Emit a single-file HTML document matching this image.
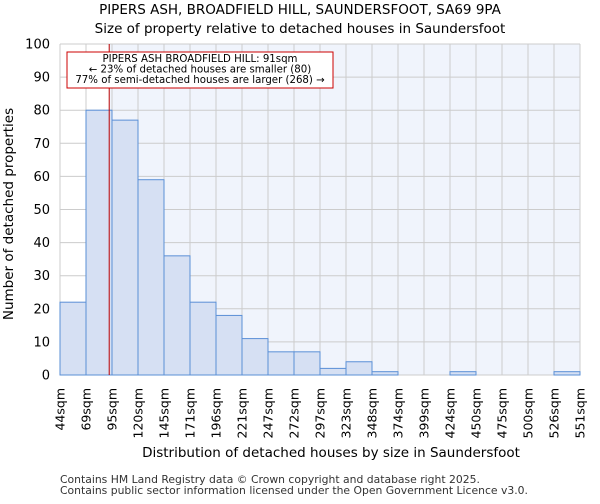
<!DOCTYPE html>
<html><head><meta charset="utf-8"><style>
body{margin:0;background:#fff;font-family:"DejaVu Sans","Liberation Sans",sans-serif}
</style></head><body>
<svg width="600" height="500" xmlns="http://www.w3.org/2000/svg" font-family="DejaVu Sans, Liberation Sans, sans-serif">
<text x="300" y="14" text-anchor="middle" font-size="13.5">PIPERS ASH, BROADFIELD HILL, SAUNDERSFOOT, SA69 9PA</text>
<text x="300" y="33" text-anchor="middle" font-size="13.5">Size of property relative to detached houses in Saundersfoot</text>
<g id="plot"></g>
<text x="331" y="457" text-anchor="middle" font-size="13.5">Distribution of detached houses by size in Saundersfoot</text>
<text transform="translate(13,214) rotate(-90)" text-anchor="middle" font-size="13.5">Number of detached properties</text>
<text x="60" y="483" font-size="10.8" fill="#333">Contains HM Land Registry data © Crown copyright and database right 2025.</text>
<text x="60" y="494" font-size="10.8" fill="#333">Contains public sector information licensed under the Open Government Licence v3.0.</text>
</svg>
<script>
const categories=["44sqm","69sqm","95sqm","120sqm","145sqm","171sqm","196sqm","221sqm","247sqm","272sqm","297sqm","323sqm","348sqm","374sqm","399sqm","424sqm","450sqm","475sqm","500sqm","526sqm","551sqm"];
const counts=[22,80,77,59,36,22,18,11,7,7,2,4,1,0,0,1,0,0,0,1];
const yTicks=[0,10,20,30,40,50,60,70,80,90,100];
const propertySize=91;
const binStart=44, binWidth=25.35;
const NS="http://www.w3.org/2000/svg";
const L=60,R=580,T=44,B=375,yMax=100;
const bw=(R-L)/counts.length;
const y=v=>B-(v/yMax)*(B-T);
const x=i=>L+i*bw;
const xv=v=>L+(v-binStart)/binWidth*bw;
const g=document.getElementById('plot');
function mk(t,a){const e=document.createElementNS(NS,t);for(const k in a)e.setAttribute(k,a[k]);g.appendChild(e);return e;}
const px=xv(propertySize)+1;
let e=mk('rect',{x:L,y:T,width:R-L,height:B-T,fill:'#f0f4fc'});


e=mk('rect',{x:L,y:T,width:px-L,height:B-T,fill:'#fff'});


for(let i=0;i<=counts.length;i++){e=mk('line',{x1:x(i),x2:x(i),y1:T,y2:B,stroke:'#ccc','stroke-width':1});

}
yTicks.forEach(t=>{e=mk('line',{x1:L,x2:R,y1:y(t),y2:y(t),stroke:'#ccc','stroke-width':1});


e=mk('text',{x:L-10,y:y(t)+4.5,'text-anchor':'end','font-size':13});e.textContent=t;

});
counts.forEach((c,i)=>{if(c<=0)return;e=mk('rect',{x:x(i),y:y(c),width:bw,height:B-y(c),fill:'#d6e0f3',stroke:'#5a8fd6','stroke-width':1});

});
categories.forEach((c,i)=>{e=mk('text',{transform:`translate(${x(i)+4.5},${388}) rotate(-90)`,'text-anchor':'end','font-size':12.5});e.textContent=c;

});
e=mk('line',{x1:px,x2:px,y1:T,y2:B,stroke:'#b00','stroke-width':1});


e=mk('rect',{x:67,y:52,width:266,height:36,fill:'#fff',stroke:'#c00','stroke-width':1});


["PIPERS ASH BROADFIELD HILL: 91sqm","← 23% of detached houses are smaller (80)","77% of semi-detached houses are larger (268) →"].forEach((s,i)=>{e=mk('text',{x:200,y:62+i*10.5,'text-anchor':'middle','font-size':10.2});e.textContent=s;

});
</script>
</body></html>
